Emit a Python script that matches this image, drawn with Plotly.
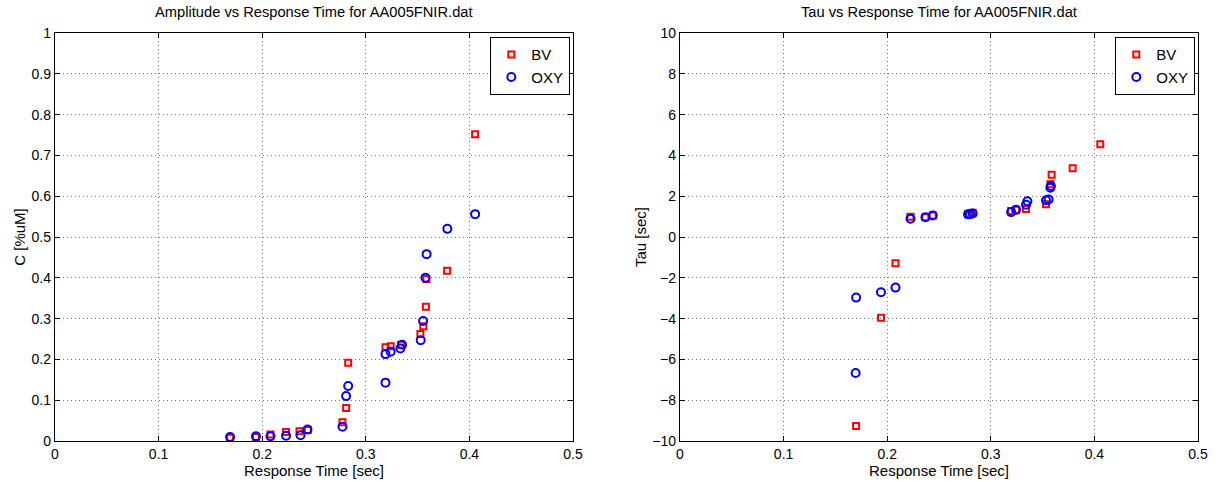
import plotly.graph_objects as go

# ---- Data ----
amp_bv_t = [0.169, 0.194, 0.208, 0.223, 0.236, 0.244, 0.2775, 0.281, 0.283, 0.319,
            0.324, 0.334, 0.3527, 0.3555, 0.358, 0.3585, 0.3785, 0.4055]
amp_bv_c = [0.008, 0.010, 0.016, 0.022, 0.024, 0.027, 0.046, 0.081, 0.192, 0.230,
            0.232, 0.236, 0.262, 0.281, 0.329, 0.397, 0.417, 0.752]

amp_oxy_t = [0.169, 0.194, 0.208, 0.223, 0.237, 0.2437, 0.2775, 0.281, 0.283, 0.319,
             0.319, 0.324, 0.3334, 0.335, 0.353, 0.3553, 0.3576, 0.3587, 0.3787, 0.4055]
amp_oxy_c = [0.010, 0.0115, 0.0115, 0.013, 0.014, 0.028, 0.035, 0.110, 0.135, 0.143,
             0.213, 0.219, 0.227, 0.236, 0.247, 0.294, 0.400, 0.458, 0.520, 0.556]

tau_bv_t = [0.170, 0.194, 0.208, 0.2225, 0.2369, 0.244, 0.278, 0.2825, 0.3196, 0.3244,
            0.334, 0.3533, 0.3575, 0.3587, 0.379, 0.4057]
tau_bv = [-9.27, -3.96, -1.29, 0.99, 0.97, 1.05, 1.12, 1.19, 1.27, 1.33,
          1.37, 1.61, 2.58, 3.05, 3.37, 4.55]

tau_oxy_t = [0.1695, 0.170, 0.194, 0.208, 0.2225, 0.2369, 0.244, 0.278, 0.280, 0.2825,
             0.3196, 0.3244, 0.334, 0.3353, 0.3533, 0.3558, 0.3575, 0.358]
tau_oxy = [-6.67, -2.97, -2.71, -2.48, 0.90, 0.97, 1.05, 1.11, 1.12, 1.15,
           1.22, 1.33, 1.58, 1.75, 1.80, 1.84, 2.42, 2.50]

titles = ["Amplitude vs Response Time for AA005FNIR.dat",
          "Tau vs Response Time for AA005FNIR.dat"]
x_label = "Response Time [sec]"
y_labels = ["C [%uM]", "Tau [sec]"]
x_ticks = [0, 0.1, 0.2, 0.3, 0.4, 0.5]
y1_ticks = [0, 0.1, 0.2, 0.3, 0.4, 0.5, 0.6, 0.7, 0.8, 0.9, 1]
y2_ticks = [-10, -8, -6, -4, -2, 0, 2, 4, 6, 8, 10]

RED = "#ff0000"
BLUE = "#0000ff"
FONT = "Liberation Sans, Arial, Helvetica, sans-serif"

W, H = 1219, 482
L1, R1 = 55, 573
L2, R2 = 680, 1198
TOP, BOT = 33, 441

fig = go.Figure()

sq = dict(symbol="square-open", size=6, color=RED, line=dict(width=2, color=RED))
ci = dict(symbol="circle-open", size=8, color=BLUE, line=dict(width=2, color=BLUE))

fig.add_trace(go.Scatter(x=amp_bv_t, y=amp_bv_c, mode="markers", name="BV",
                         marker=sq, xaxis="x", yaxis="y", legend="legend"))
fig.add_trace(go.Scatter(x=amp_oxy_t, y=amp_oxy_c, mode="markers", name="OXY",
                         marker=ci, xaxis="x", yaxis="y", legend="legend"))
fig.add_trace(go.Scatter(x=tau_bv_t, y=tau_bv, mode="markers", name="BV",
                         marker=sq, xaxis="x2", yaxis="y2", legend="legend2"))
fig.add_trace(go.Scatter(x=tau_oxy_t, y=tau_oxy, mode="markers", name="OXY",
                         marker=ci, xaxis="x2", yaxis="y2", legend="legend2"))

common_axis = dict(
    showline=True, linecolor="black", linewidth=1.3, mirror="ticks",
    ticks="inside", ticklen=5, tickcolor="black", tickwidth=1,
    showgrid=True, gridcolor="#7a7a7a", griddash="1px,3px", gridwidth=1,
    zeroline=False, automargin=False,
    tickfont=dict(size=14, color="black", family=FONT),
)

ydom = [1 - BOT / H, 1 - TOP / H]

fig.update_layout(
    width=W, height=H,
    margin=dict(l=0, r=0, t=0, b=0, autoexpand=False),
    paper_bgcolor="white", plot_bgcolor="white",
    font=dict(family=FONT, size=14, color="black"),
    showlegend=True,
    xaxis=dict(domain=[L1 / W, R1 / W], range=[0, 0.5], tickvals=x_ticks,
               anchor="y",
               title=dict(text=x_label, standoff=3, font=dict(size=15)),
               **common_axis),
    yaxis=dict(domain=ydom, range=[0, 1], tickvals=y1_ticks, anchor="x",
               title=dict(text=y_labels[0], standoff=2, font=dict(size=15)),
               **common_axis),
    xaxis2=dict(domain=[L2 / W, R2 / W], range=[0, 0.5], tickvals=x_ticks,
                anchor="y2",
                title=dict(text=x_label, standoff=3, font=dict(size=15)),
                **common_axis),
    yaxis2=dict(domain=ydom, range=[-10, 10], tickvals=y2_ticks, anchor="x2",
                title=dict(text=y_labels[1], standoff=2, font=dict(size=15)),
                **common_axis),
    legend=dict(x=(R1 - 3) / W, y=1 - 37 / H, xanchor="right", yanchor="top",
                bgcolor="white", bordercolor="black", borderwidth=1.3,
                font=dict(size=15, family=FONT), itemwidth=30,
                tracegroupgap=0),
    legend2=dict(x=(R2 - 3) / W, y=1 - 37 / H, xanchor="right", yanchor="top",
                 bgcolor="white", bordercolor="black", borderwidth=1.3,
                 font=dict(size=15, family=FONT), itemwidth=30,
                 tracegroupgap=0),
    annotations=[
        dict(text=titles[0], x=(L1 + R1) / 2 / W, y=1 - 12 / H, xref="paper", yref="paper",
             showarrow=False, xanchor="center", yanchor="middle", font=dict(size=14.7)),
        dict(text=titles[1], x=(L2 + R2) / 2 / W, y=1 - 12 / H, xref="paper", yref="paper",
             showarrow=False, xanchor="center", yanchor="middle", font=dict(size=14.7)),
    ],
)

# remove the default 8px page margin so the figure sits at the window's top-left corner
fig.write_html("out.html", config={"displayModeBar": False},
               post_script="document.body.style.margin='0';")
